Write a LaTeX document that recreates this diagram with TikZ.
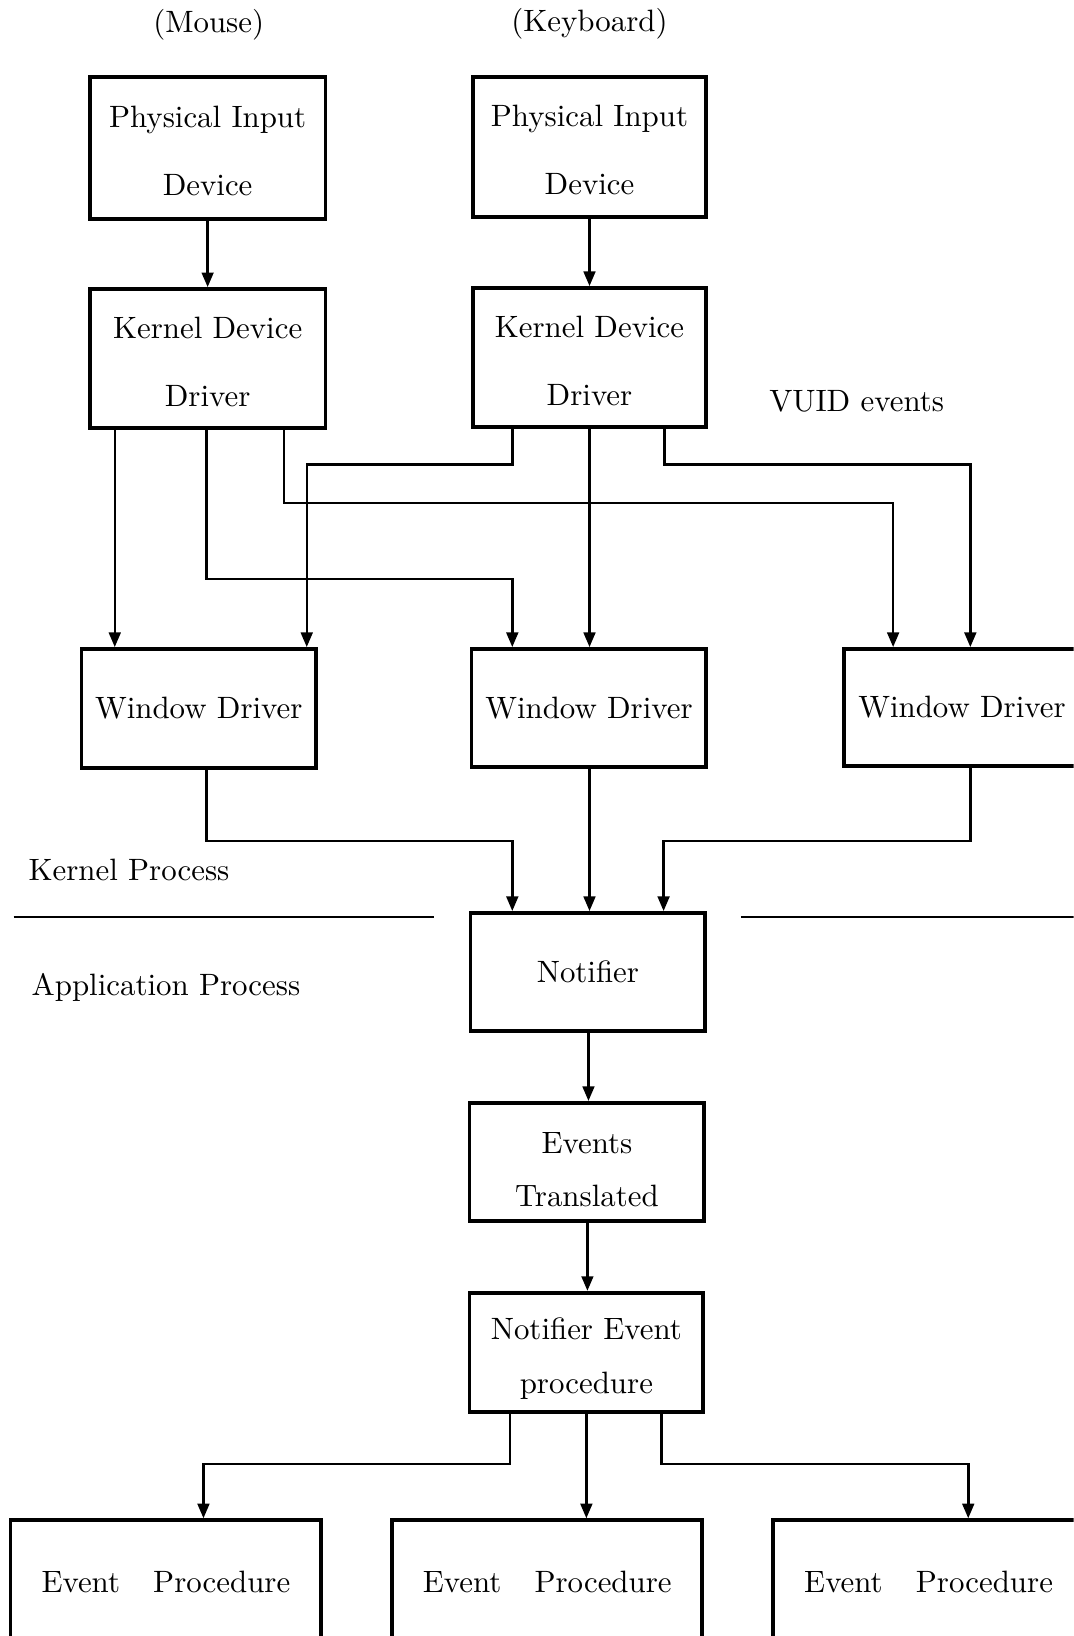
\documentclass[tikz,border=0pt]{standalone}
\usepackage{fontspec}
\newfontfamily\dfont{lmroman10-regular}[Extension=.otf]
\usetikzlibrary{arrows.meta}
\tikzset{
  box/.style={draw, line width=1.8pt, inner sep=0pt, align=center},
  conn/.style={line width=1.2pt},
  arr/.style={conn, -{Triangle[length=7pt,width=5.6pt]}},
  lbl/.style={inner sep=0pt},
  sepline/.style={line width=1.1pt}
}
\newcommand{\fA}{\dfont\fontsize{14.8}{33}\selectfont}
\newcommand{\fB}{\dfont\fontsize{14.8}{25.7}\selectfont}
\begin{document}
\begin{tikzpicture}[x=0.5pt,y=-0.5pt]
\useasboundingbox (0,0) rectangle (1029,1568);
\fill[white] (0,0) rectangle (1029,1568);
\clip (0,0) rectangle (1029,1568);
% labels
\node[lbl, font=\fA] (mouse) at (200,24) {(Mouse)};
\node[lbl, font=\fA] (keyb) at (565,23) {(Keyboard)};
\node[lbl, font=\fA] (vuid) at (821,385) {VUID events};
\node[lbl, font=\fA, anchor=west] (kproc) at (27,834) {Kernel Process};
\node[lbl, font=\fA, anchor=west] (aproc) at (30,946) {Application Process};
% boxes
\node[box, font=\fA, minimum width=113pt, minimum height=68pt] (pidm) at (199,142) {\rule{0pt}{13pt}Physical Input\\Device};
\node[box, font=\fA, minimum width=112pt, minimum height=67pt] (pidk) at (565,141) {\rule{0pt}{13pt}Physical Input\\Device};
\node[box, font=\dfont\fontsize{14.8}{32.5}\selectfont, minimum width=113pt, minimum height=66.5pt] (kddm) at (199,343.5) {\rule{0pt}{14pt}Kernel Device\\Driver};
\node[box, font=\dfont\fontsize{14.8}{32.5}\selectfont, minimum width=112pt, minimum height=66.5pt] (kddk) at (565,342.5) {\rule{0pt}{14pt}Kernel Device\\Driver};
\node[box, font=\fA, minimum width=112.5pt, minimum height=57pt] (wd1) at (190.5,679) {Window Driver};
\node[box, font=\fA, minimum width=112.5pt, minimum height=56.5pt] (wd2) at (564.5,678.5) {Window Driver};
\node[box, font=\fA, minimum width=113pt, minimum height=56pt] (wd3) at (922,678) {Window Driver};
\node[box, font=\fA, minimum width=112.5pt, minimum height=56.5pt] (notif) at (563.5,931.5) {Notifier};
\node[box, font=\fB, minimum width=112.5pt, minimum height=56.5pt] (evt) at (562.5,1113.5) {\rule{0pt}{17.5pt}Events\\Translated};
\node[box, font=\fB, minimum width=112pt, minimum height=57pt] (nep) at (562,1296) {\rule{0pt}{16.5pt}Notifier Event\\procedure};
\node[box, font=\fA, minimum width=149pt, minimum height=59pt] (ep1) at (159,1516) {Event\hspace{11pt} Procedure};
\node[box, font=\fA, minimum width=148.5pt, minimum height=59pt] (ep2) at (524.5,1516) {Event\hspace{11pt} Procedure};
\node[box, font=\fA, minimum width=149pt, minimum height=59pt] (ep3) at (890,1516) {Event\hspace{11pt} Procedure};
% separator lines
\draw[sepline] (13,879) -- (416,879);
\draw[sepline] (710,879) -- (1040,879);
% connectors
\draw[arr] (pidm.south) -- (kddm.north);
\draw[arr] (pidk.south) -- (kddk.north);
\draw[arr] (kddm.south -| 110,0) -- (wd1.north -| 110,0);
\draw[arr] (kddm.south -| 198,0) -- (198,555) -- (491,555) -- (wd2.north -| 491,0);
\draw[arr] (kddm.south -| 272,0) -- (272,482) -- (856,482) -- (wd3.north -| 856,0);
\draw[arr] (kddk.south -| 491,0) -- (491,445) -- (294,445) -- (wd1.north -| 294,0);
\draw[arr] (kddk.south) -- (wd2.north -| kddk.south);
\draw[arr] (kddk.south -| 637,0) -- (637,445) -- (930,445) -- (wd3.north -| 930,0);
\draw[arr] (wd1.south -| 198,0) -- (198,806) -- (491,806) -- (notif.north -| 491,0);
\draw[arr] (wd2.south -| 565,0) -- (notif.north -| 565,0);
\draw[arr] (wd3.south -| 930,0) -- (930,806) -- (636,806) -- (notif.north -| 636,0);
\draw[arr] (notif.south -| 564,0) -- (evt.north -| 564,0);
\draw[arr] (evt.south -| 563,0) -- (nep.north -| 563,0);
\draw[arr] (nep.south -| 489,0) -- (489,1403) -- (195,1403) -- (ep1.north -| 195,0);
\draw[arr] (nep.south -| 562,0) -- (ep2.north -| 562,0);
\draw[arr] (nep.south -| 634,0) -- (634,1403) -- (928,1403) -- (ep3.north -| 928,0);
\end{tikzpicture}
\end{document}
